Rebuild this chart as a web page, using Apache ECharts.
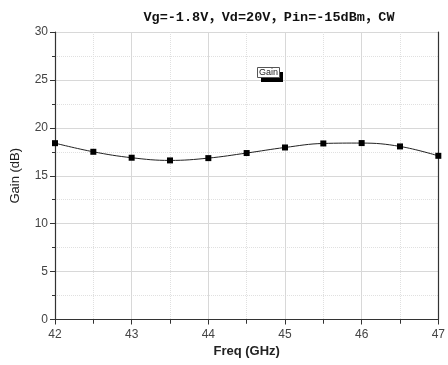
<!DOCTYPE html>
<html><head><meta charset="utf-8">
<script src="https://cdn.jsdelivr.net/npm/echarts@6/dist/echarts.min.js"></script>
<style>html,body{margin:0;padding:0;background:#fff}#c{width:448px;height:365px}</style>
</head><body><div id="c"></div>
<script>
const freq = [42, 42.5, 43, 43.5, 44, 44.5, 45, 45.5, 46, 46.5, 47];
const gain = [18.4, 17.5, 16.88, 16.6, 16.84, 17.37, 17.95, 18.37, 18.41, 18.06, 17.08];
const title = 'Vg=-1.8V，Vd=20V，Pin=-15dBm，CW';
const seriesName = 'Gain';
const xName = 'Freq (GHz)';
const yName = 'Gain (dB)';

const chart = echarts.init(document.getElementById('c'), null, {renderer: 'canvas'});
const axisCol = '#333';
const font = 'Liberation Sans, Arial, sans-serif';
chart.setOption({
  animation: false,
  backgroundColor: '#fff',
  title: {
    text: title, left: 264, top: 6, textAlign: 'center',
    textStyle: {fontFamily: 'Liberation Mono, "Noto Sans CJK SC", monospace', fontSize: 13.5, fontWeight: 'bold', color: '#111'}
  },
  legend: {show: false},
  graphic: [
    {type: 'rect', z: 100, shape: {x: 261, y: 72, width: 22, height: 10}, style: {fill: '#000'}, silent: true},
    {type: 'rect', z: 101, shape: {x: 257.5, y: 67.5, width: 22, height: 10}, style: {fill: '#fff', stroke: '#555', lineWidth: 1}, silent: true},
    {type: 'text', z: 102, x: 268.5, y: 72.5, style: {text: seriesName, fontFamily: font, fontSize: 9, fill: '#222', align: 'center', verticalAlign: 'middle'}, silent: true}
  ],
  grid: {left: 55, right: 4, top: 32, bottom: 45.5},
  xAxis: [{
    type: 'value', min: 42, max: 47, interval: 1,
    name: xName, nameLocation: 'middle', nameGap: 25,
    nameTextStyle: {fontFamily: font, fontSize: 13, fontWeight: 'bold', color: '#222'},
    axisLine: {lineStyle: {color: axisCol, width: 1.2}},
    axisTick: {show: true, length: 5, lineStyle: {color: axisCol}},
    minorTick: {show: true, splitNumber: 2, length: 4, lineStyle: {color: axisCol}},
    axisLabel: {fontFamily: font, fontSize: 12, color: '#444', margin: 9},
    splitLine: {show: true, lineStyle: {color: '#d8d8d8', width: 1}},
    minorSplitLine: {show: true, lineStyle: {color: '#e0e0e0', type: 'dotted'}}
  }, {
    type: 'value', min: 42, max: 47, interval: 1, position: 'top',
    axisLine: {show: true, lineStyle: {color: axisCol, width: 1.2}},
    axisTick: {show: true, inside: true, length: 4, lineStyle: {color: axisCol}},
    minorTick: {show: true, splitNumber: 2, length: 4, lineStyle: {color: axisCol}},
    axisLabel: {show: false}, splitLine: {show: false}
  }],
  yAxis: [{
    type: 'value', min: 0, max: 30, interval: 5,
    name: yName, nameLocation: 'middle', nameGap: 33, nameRotate: 90,
    nameTextStyle: {fontFamily: font, fontSize: 13, color: '#222'},
    axisLine: {show: true, lineStyle: {color: axisCol, width: 1.2}},
    axisTick: {show: true, length: 5, lineStyle: {color: axisCol}},
    minorTick: {show: true, splitNumber: 2, length: 3, lineStyle: {color: axisCol}},
    axisLabel: {fontFamily: font, fontSize: 12, color: '#444', margin: 7},
    splitLine: {show: true, lineStyle: {color: '#d8d8d8', width: 1}},
    minorSplitLine: {show: true, lineStyle: {color: '#e0e0e0', type: 'dotted'}}
  }, {
    type: 'value', min: 0, max: 30, interval: 5, position: 'right',
    axisLine: {show: true, lineStyle: {color: axisCol, width: 1.2}},
    axisTick: {show: false}, axisLabel: {show: false}, splitLine: {show: false}
  }],
  series: [{
    name: seriesName, type: 'line', smooth: 0.4,
    data: freq.map((f, i) => [f, gain[i]]),
    symbol: 'rect', symbolSize: 6,
    lineStyle: {color: '#222', width: 1},
    itemStyle: {color: '#000'},
    clip: false
  }]
});
</script></body></html>
